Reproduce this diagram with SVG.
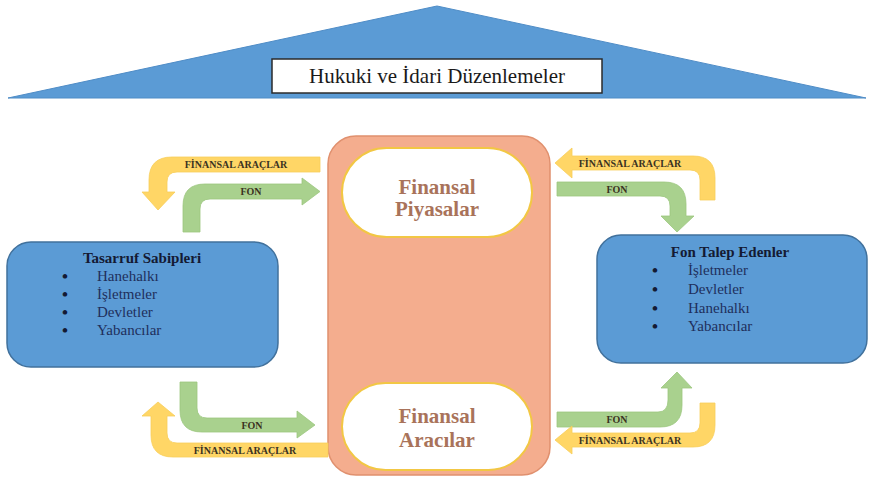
<svg xmlns="http://www.w3.org/2000/svg" width="870" height="478" viewBox="0 0 870 478" font-family="Liberation Serif">
<style>
svg text, text{font-family:"Liberation Serif",serif !important}
.roof{fill:#5B9BD5;stroke:#4F8CC6;stroke-width:1}
.hdr{fill:#fff;stroke:#2b2b2b;stroke-width:1.5}
.hdrt{font-size:21px;fill:#1a1a1a;text-anchor:middle}
.blue{fill:#5B9BD5;stroke:#41719C;stroke-width:1.5}
.ttl{font-size:15px;font-weight:bold;fill:#141a33;text-anchor:middle}
.itm{font-size:15px;fill:#1F2F5C}
.bul{font-size:17px;font-weight:bold;fill:#141a33}
.pink{fill:#F4AD8E;stroke:#E0906E;stroke-width:1.5}
.pill{fill:#fff;stroke:#F2C744;stroke-width:2}
.pt{font-size:21px;font-weight:bold;fill:#A9735A;text-anchor:middle}
.ya{fill:#FFD666;stroke:#F7CE5A;stroke-width:0.8}
.ga{fill:#A9D18E;stroke:#9CC77F;stroke-width:0.8}
.al{font-size:10px;font-weight:bold;fill:#3b3322;text-anchor:middle}
</style>
<g id="roof">
<polygon class="roof" points="437,6 8,98 866,98"/>
<rect class="hdr" x="272" y="59" width="330" height="34"/>
<text class="hdrt" font-family="Liberation Serif" x="437" y="83">Hukuki ve İdari Düzenlemeler</text>
</g>
<g id="center">
<rect class="pink" x="328" y="136" width="222" height="339" rx="28" ry="28"/>
</g>
<g id="finansal-piyasalar">
<rect class="pill" x="342" y="148" width="190" height="89" rx="44.5" ry="44.5"/>
<text class="pt" font-family="Liberation Serif" x="437" y="194">Finansal</text>
<text class="pt" font-family="Liberation Serif" x="437" y="216">Piyasalar</text>
</g>
<g id="finansal-aracilar">
<rect class="pill" x="342" y="383" width="190" height="87" rx="43.5" ry="43.5"/>
<text class="pt" font-family="Liberation Serif" x="437" y="423">Finansal</text>
<text class="pt" font-family="Liberation Serif" x="437" y="447">Aracılar</text>
</g>
<g id="tasarruf-sahipleri">
<rect class="blue" x="7" y="242" width="271" height="125" rx="24" ry="24"/>
<text class="ttl" font-family="Liberation Serif" x="142" y="263">Tasarruf Sabipleri</text>
<text class="bul" font-family="Liberation Serif" x="62" y="282">•</text><text class="itm" font-family="Liberation Serif" x="97" y="281">Hanehalkı</text>
<text class="bul" font-family="Liberation Serif" x="62" y="300">•</text><text class="itm" font-family="Liberation Serif" x="97" y="299">İşletmeler</text>
<text class="bul" font-family="Liberation Serif" x="62" y="318">•</text><text class="itm" font-family="Liberation Serif" x="97" y="317">Devletler</text>
<text class="bul" font-family="Liberation Serif" x="62" y="336">•</text><text class="itm" font-family="Liberation Serif" x="97" y="335">Yabancılar</text>
</g>
<g id="fon-talep-edenler">
<rect class="blue" x="597" y="235" width="270" height="128" rx="24" ry="24"/>
<text class="ttl" font-family="Liberation Serif" x="730" y="257">Fon Talep Edenler</text>
<text class="bul" font-family="Liberation Serif" x="652" y="276">•</text><text class="itm" font-family="Liberation Serif" x="688" y="275">İşletmeler</text>
<text class="bul" font-family="Liberation Serif" x="652" y="295">•</text><text class="itm" font-family="Liberation Serif" x="688" y="294">Devletler</text>
<text class="bul" font-family="Liberation Serif" x="652" y="314">•</text><text class="itm" font-family="Liberation Serif" x="688" y="313">Hanehalkı</text>
<text class="bul" font-family="Liberation Serif" x="652" y="332">•</text><text class="itm" font-family="Liberation Serif" x="688" y="331">Yabancılar</text>
</g>
<g id="connectors">
<path class="ya" d="M320,157 H172 Q149,157 149,180 V192 H142 L158,210 L175,192 H167 V182 Q167,172 177,172 H320 Z"/>
<path class="ga" d="M183,232 V206 Q183,184 205,184 H302 V178 L320,191.5 L302,205 V199 H210 Q200,199 200,209 V232 Z"/>
<path class="ya" d="M555,163 L572,148 V156 H693 Q715,156 715,178 V200 H700 V180 Q700,170 690,170 H572 V178 Z"/>
<path class="ga" d="M557,182 H664 Q686,182 686,204 V216 H694 L677,232 L661,216 H670 V206 Q670,196 660,196 H557 Z"/>
<path class="ga" d="M180,382 V410 Q180,432 202,432 H297 V438 L315,425 L297,411 V418 H207 Q197,418 197,408 V382 Z"/>
<path class="ya" d="M158,402 L175,416 H167 V433 Q167,443 177,443 H328 V457 H173 Q151,457 151,435 V416 H142 Z"/>
<path class="ga" d="M557,427 H660 Q682,427 682,405 V388 H692 L677,372 L661,388 H668 V400 Q668,412 658,412 H557 Z"/>
<path class="ya" d="M700,403 H715 V425 Q715,447 693,447 H572 V454 L555,440 L572,426 V433 H690 Q700,433 700,423 Z"/>
<text class="al" font-family="Liberation Serif" x="236" y="168">FİNANSAL ARAÇLAR</text>
<text class="al" font-family="Liberation Serif" x="251" y="195">FON</text>
<text class="al" font-family="Liberation Serif" x="630" y="167">FİNANSAL ARAÇLAR</text>
<text class="al" font-family="Liberation Serif" x="617" y="193">FON</text>
<text class="al" font-family="Liberation Serif" x="252" y="429">FON</text>
<text class="al" font-family="Liberation Serif" x="245" y="454">FİNANSAL ARAÇLAR</text>
<text class="al" font-family="Liberation Serif" x="617" y="423">FON</text>
<text class="al" font-family="Liberation Serif" x="630" y="444">FİNANSAL ARAÇLAR</text>
</g>
</svg>
